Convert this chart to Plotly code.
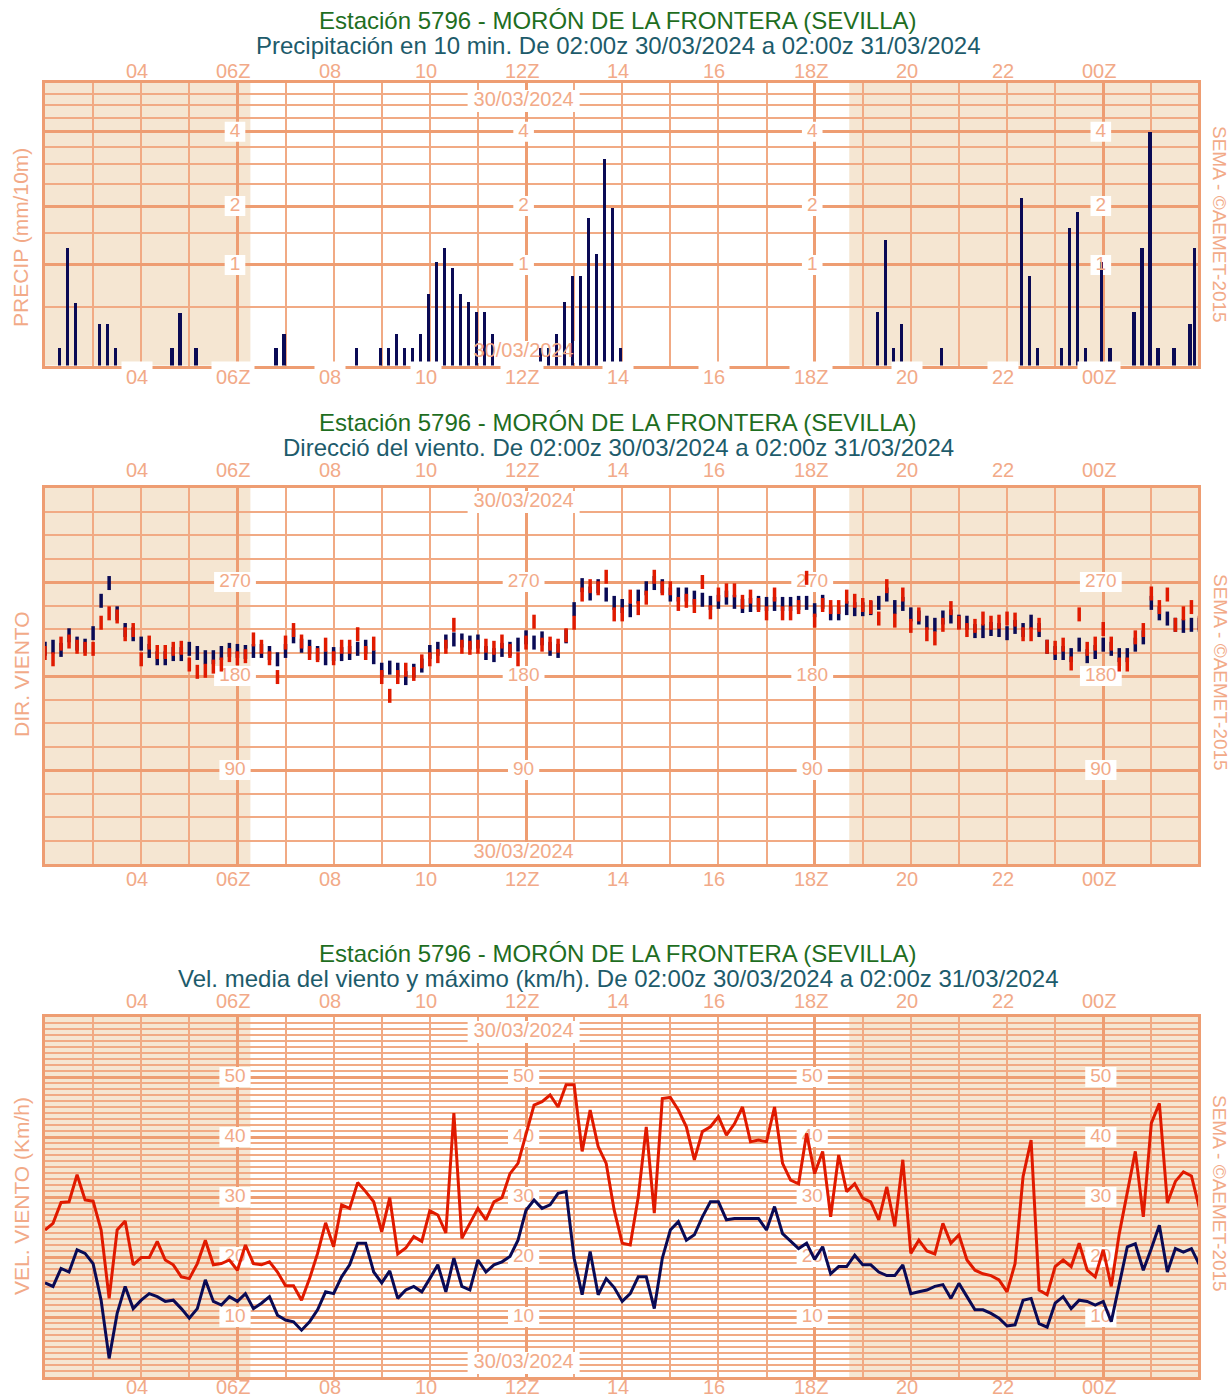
import math
import plotly.graph_objects as go

W, H = 1230, 1398

# ---------------- data ----------------
x_tick_hours = [2, 4, 6, 8, 10, 12, 14, 16, 18, 20, 22]
x_tick_labels = ["04", "06Z", "08", "10", "12Z", "14", "16", "18Z", "20", "22", "00Z"]
date_label = "30/03/2024"
sunrise_h = 4.27   # ~06:16z (hours after 02:00z)
sunset_h = 16.72   # ~18:43z

precip_times = ["02:20", "02:30", "02:40", "03:10", "03:20", "03:30", "04:40", "04:50", "05:10",
                "06:50", "07:00", "08:30", "09:00", "09:10", "09:20", "09:30", "09:40", "09:50",
                "10:00", "10:10", "10:20", "10:30", "10:40", "10:50", "11:00", "11:10", "11:20",
                "12:20", "12:30", "12:40", "12:50", "13:00", "13:10", "13:20", "13:30", "13:40",
                "13:50", "14:00", "19:20", "19:30", "19:40", "19:50", "20:40", "22:20", "22:30",
                "22:40", "23:10", "23:20", "23:30", "23:40", "00:00", "00:10", "00:40", "00:50",
                "01:00", "01:10", "01:30", "01:50", "01:56"]
precip_mm = [0.13, 1.24, 0.54, 0.33, 0.33, 0.13, 0.13, 0.44, 0.13,
             0.13, 0.24, 0.13, 0.13, 0.13, 0.24, 0.13, 0.13, 0.24,
             0.64, 1.04, 1.25, 0.96, 0.64, 0.55, 0.45, 0.45, 0.24,
             0.13, 0.13, 0.24, 0.55, 0.85, 0.85, 1.76, 1.15, 3.15,
             1.95, 0.13, 0.45, 1.37, 0.13, 0.33, 0.13, 2.17, 0.85,
             0.13, 0.13, 1.58, 1.88, 0.13, 1.04, 0.13, 0.45, 1.25,
             3.98, 0.13, 0.13, 0.33, 1.25]
precip_ticks = [1, 2, 4]
precip_minor = [0.5, 1.5, 2.5, 3, 3.5, 4.5, 5, 5.5]

# wind direction every 10 min from 02:00z (degrees)
dir_mean = [206, 208, 205, 219, 211, 209, 221, 252, 269, 240, 224, 220, 211, 204, 197, 197, 201, 201,
            206, 202, 198, 198, 202, 205, 204, 203, 204, 204, 202, 196, 204, 218, 209, 208, 202, 197,
            201, 201, 202, 206, 208, 198, 186, 188, 186, 178, 185, 190, 203, 206, 213, 215, 214, 212,
            213, 202, 200, 205, 206, 210, 217, 212, 216, 206, 204, 218, 244, 267, 259, 266, 258, 250,
            247, 243, 256, 264, 269, 266, 258, 258, 258, 255, 253, 250, 251, 255, 251, 247, 248, 250,
            249, 249, 249, 249, 250, 250, 243, 251, 240, 240, 245, 244, 244, 245, 250, 258, 246, 249,
            239, 236, 231, 229, 236, 237, 232, 231, 223, 223, 225, 224, 221, 227, 224, 232, 224, 208,
            202, 202, 200, 210, 199, 203, 210, 206, 200, 200, 210, 217, 250, 240, 235, 229, 228, 229, 229]
dir_gust = [202, 196, 211, 213, 208, 206, 206, 231, 240, 237, 220, 224, 196, 212, 203, 203, 206, 207,
            191, 184, 185, 189, 191, 200, 197, 199, 215, 208, 197, 179, 212, 224, 213, 202, 200, 210,
            197, 208, 208, 220, 202, 211, 179, 161, 179, 186, 182, 194, 196, 199, 208, 229, 208, 207,
            208, 209, 207, 213, 204, 196, 212, 232, 210, 211, 209, 219, 231, 258, 266, 264, 275, 239,
            239, 256, 245, 255, 275, 264, 264, 249, 252, 247, 270, 241, 258, 262, 262, 251, 256, 248,
            240, 258, 240, 240, 246, 274, 233, 248, 246, 246, 256, 252, 248, 246, 235, 266, 233, 258,
            228, 239, 220, 216, 229, 245, 231, 224, 228, 235, 231, 232, 235, 234, 220, 220, 229, 208,
            207, 210, 192, 239, 206, 211, 225, 211, 191, 191, 217, 224, 259, 246, 258, 229, 240, 246, 231]
dir_ticks = [90, 180, 270]

# wind speed every 10 min from 02:00z (km/h)
vel_gust = [24.5, 25.6, 29.1, 29.2, 33.7, 29.5, 29.3, 24.5, 13.1, 24.5, 26.0, 18.7, 19.9, 19.9, 22.6,
            19.5, 18.7, 16.7, 16.4, 18.9, 22.8, 18.7, 18.9, 19.5, 17.8, 22.0, 18.9, 18.7, 19.2, 17.5,
            15.2, 15.2, 12.8, 16.4, 20.6, 25.7, 21.7, 28.7, 28.1, 32.4, 30.9, 29.2, 24.2, 29.9, 20.5,
            21.5, 23.4, 22.6, 27.7, 27.0, 24.0, 44.0, 23.1, 25.6, 28.1, 26.2, 29.2, 29.9, 33.9, 35.6,
            40.6, 45.3, 45.9, 47.0, 45.0, 48.7, 48.7, 37.6, 44.5, 38.4, 35.6, 27.8, 22.3, 22.0, 30.0,
            41.7, 27.3, 46.4, 46.6, 44.5, 41.7, 36.2, 40.9, 41.7, 43.4, 40.3, 42.2, 45.0, 39.2, 39.5,
            39.2, 45.0, 35.6, 32.8, 32.2, 40.6, 33.9, 37.6, 26.7, 37.0, 30.9, 32.2, 29.8, 29.2, 26.2,
            31.7, 25.1, 36.2, 20.6, 22.8, 21.0, 20.5, 25.6, 22.3, 23.7, 19.5, 17.8, 17.2, 16.9, 16.2,
            14.2, 18.9, 33.4, 39.5, 14.5, 13.7, 18.4, 19.5, 18.4, 22.3, 17.8, 16.7, 21.2, 15.1, 23.9,
            30.6, 37.6, 26.7, 42.3, 45.6, 29.0, 32.6, 34.2, 33.5, 28.1]
vel_mean = [15.7, 15.1, 18.1, 17.5, 21.2, 20.6, 18.9, 12.8, 3.1, 10.6, 15.1, 11.4, 12.8, 13.9, 13.4,
            12.6, 12.8, 11.4, 9.8, 11.4, 16.2, 12.6, 12.0, 13.4, 12.6, 13.9, 11.4, 12.3, 13.4, 10.3,
            9.5, 9.2, 7.8, 9.2, 11.2, 14.2, 13.9, 16.7, 18.7, 22.3, 22.3, 17.5, 15.7, 17.7, 13.1,
            14.5, 15.1, 14.2, 16.4, 18.7, 14.2, 19.8, 15.1, 14.5, 19.5, 17.5, 18.7, 19.2, 20.1, 22.8,
            27.8, 29.5, 28.1, 28.7, 30.6, 30.9, 19.8, 13.7, 20.9, 13.7, 16.4, 14.9, 12.6, 13.9, 16.7,
            16.7, 11.4, 19.8, 24.5, 25.9, 22.8, 23.7, 26.7, 29.2, 29.2, 26.2, 26.4, 26.4, 26.4, 26.4,
            24.5, 28.4, 23.9, 22.6, 21.4, 22.3, 19.6, 21.7, 17.2, 18.4, 18.4, 20.3, 18.7, 18.7, 17.5,
            16.9, 16.9, 18.7, 13.9, 14.2, 14.5, 15.1, 15.4, 13.1, 15.6, 13.4, 11.2, 11.2, 10.6, 9.8,
            8.5, 8.7, 12.8, 13.1, 8.9, 8.3, 12.3, 13.4, 11.4, 12.8, 12.6, 12.0, 12.6, 9.2, 15.4,
            21.7, 22.2, 17.8, 21.4, 25.3, 17.5, 21.4, 20.8, 21.4, 18.7]
vel_ticks = [10, 20, 30, 40, 50]

titles_line1 = "Estación 5796 - MORÓN DE LA FRONTERA (SEVILLA)"
titles_line2 = ["Precipitación en 10 min. De 02:00z 30/03/2024 a 02:00z 31/03/2024",
                "Direcció del viento. De 02:00z 30/03/2024 a 02:00z 31/03/2024",
                "Vel. media del viento y máximo (km/h). De 02:00z 30/03/2024 a 02:00z 31/03/2024"]
y_titles = ["PRECIP (mm/10m)", "DIR. VIENTO", "VEL. VIENTO (Km/h)"]
credit = "SEMA - ©AEMET-2015"

# ---------------- style ----------------
FONT = "Liberation Sans, Arial, sans-serif"
GRID = "#ee9d72"
GRID_THIN = "#f1aa84"
LABEL = "#f2aa88"
SHADE = "#f5e6d2"
NAVY = "#0a0a55"
RED = "#e01a00"
GREEN = "#1f6e1f"
TEAL = "#1d5b6b"

XR = [0, 23.97]
X_L, X_R = 45, 1198


def hrs(s):
    h, m = map(int, s.split(":"))
    return ((h * 60 + m - 120) % 1440) / 60.0


ln = lambda v: math.log1p(v)

# panels: (top px, bottom px, y range)
panels = [
    (83, 365.6, [0, ln(6)]),
    (488, 864, [0, 360]),
    (1017, 1377, [0, 60]),
]


def ydata(i, pix):
    top, bot, r = panels[i]
    return r[0] + (bot - pix) / (bot - top) * (r[1] - r[0])


fig = go.Figure()

label_hours = [4, 10, 16, 22]
LSHIFT = -0.05

shapes = []
annotations = []

for i, (top, bot, yr) in enumerate(panels):
    xa = "xaxis" if i == 0 else f"xaxis{i+1}"
    ya = "yaxis" if i == 0 else f"yaxis{i+1}"
    xr = "x" if i == 0 else f"x{i+1}"
    yrf = "y" if i == 0 else f"y{i+1}"
    fig.update_layout({
        xa: dict(domain=[X_L / W, X_R / W], range=XR, anchor=yrf, tickmode="linear", tick0=4, dtick=6,
                 showgrid=True, gridcolor=GRID, gridwidth=3, showticklabels=False, ticks="",
                 zeroline=False, showline=True, mirror=True, linecolor=GRID, linewidth=3,
                 minor=dict(tick0=0, dtick=1, showgrid=True, gridcolor=GRID_THIN, gridwidth=1.5)),
    })
    if i == 0:
        yax = dict(tickmode="array", tickvals=[ln(v) for v in precip_ticks],
                   minor=dict(tickmode="array", tickvals=[ln(v) for v in precip_minor], showgrid=True,
                              gridcolor=GRID_THIN, gridwidth=1.5))
        vals = precip_ticks
        ypos = [ln(v) for v in precip_ticks]
    elif i == 1:
        yax = dict(tickmode="array", tickvals=dir_ticks,
                   minor=dict(tick0=0, dtick=22.5, showgrid=True, gridcolor=GRID_THIN, gridwidth=1.5))
        vals = dir_ticks
        ypos = dir_ticks
    else:
        yax = dict(tickmode="array", tickvals=vel_ticks,
                   minor=dict(tick0=0, dtick=1, showgrid=True, gridcolor=GRID_THIN, gridwidth=1.5))
        vals = vel_ticks
        ypos = vel_ticks
    yax.update(domain=[1 - bot / H, 1 - top / H], range=yr, anchor=xr, showgrid=True, gridcolor=GRID,
               gridwidth=3, showticklabels=False, ticks="", zeroline=False, showline=True, mirror=True,
               linecolor=GRID, linewidth=3)
    fig.update_layout({ya: yax})

    # night shading
    for x0, x1 in [(XR[0], sunrise_h), (sunset_h, XR[1])]:
        shapes.append(dict(type="rect", xref=xr, yref=f"{yrf} domain", x0=x0, x1=x1, y0=0, y1=1,
                           fillcolor=SHADE, line=dict(width=0), layer="below"))

    # in-plot value labels (white boxes + text under the data)
    tx, ty, tt = [], [], []
    for h in label_hours:
        for v, yp in zip(vals, ypos):
            w = len(str(v)) * 10.6 + 10
            shapes.append(dict(type="rect", xref=xr, yref=yrf, xsizemode="pixel", ysizemode="pixel",
                               xanchor=h + LSHIFT, yanchor=yp, x0=-w / 2, x1=w / 2, y0=-10, y1=10,
                               fillcolor="white", line=dict(width=0), layer="between"))
            tx.append(h + LSHIFT)
            ty.append(yp)
            tt.append(str(v))
    # date labels
    dtop = {0: 101, 1: 502, 2: 1032}[i]
    dbot = {0: 352, 1: 853, 2: 1363}[i]
    for pix in (dtop, dbot):
        yp = ydata(i, pix)
        shapes.append(dict(type="rect", xref=xr, yref=yrf, xsizemode="pixel", ysizemode="pixel",
                           xanchor=10 + LSHIFT, yanchor=yp, x0=-56, x1=56, y0=-11, y1=11,
                           fillcolor="white", line=dict(width=0), layer="between"))
    fig.add_trace(go.Scatter(x=tx, y=ty, text=tt, mode="text", xaxis=xr, yaxis=yrf, hoverinfo="skip",
                             textfont=dict(family=FONT, size=19, color=LABEL), showlegend=False))
    fig.add_trace(go.Scatter(x=[10 + LSHIFT, 10 + LSHIFT], y=[ydata(i, dtop), ydata(i, dbot)],
                             text=[date_label, date_label], mode="text", xaxis=xr, yaxis=yrf,
                             hoverinfo="skip", textfont=dict(family=FONT, size=20, color=LABEL),
                             showlegend=False))

    # axis hour labels (top and bottom)
    top_lab = {0: 71, 1: 470, 2: 1001}[i]
    bot_lab = {0: 377, 1: 879, 2: 1387}[i]
    for h, lab in zip(x_tick_hours, x_tick_labels):
        annotations.append(dict(x=h, xref=xr, y=1 - top_lab / H, yref="paper", text=lab, showarrow=False,
                                xshift=-4, xanchor="center", yanchor="middle",
                                font=dict(family=FONT, size=20, color=LABEL)))
        annotations.append(dict(x=h, xref=xr, y=1 - bot_lab / H, yref="paper", text=lab, showarrow=False,
                                xshift=-4, xanchor="center", yanchor="middle",
                                bgcolor="white" if i == 0 else None,
                                borderpad=4 if i == 0 else 0, font=dict(family=FONT, size=20, color=LABEL)))

    # titles
    t1 = {0: 21, 1: 422, 2: 953}[i]
    t2 = {0: 46, 1: 447, 2: 978}[i]
    annotations.append(dict(x=618 / W, y=1 - t1 / H, xref="paper", yref="paper", text=titles_line1,
                            showarrow=False, xanchor="center", yanchor="middle",
                            font=dict(family=FONT, size=24, color=GREEN)))
    annotations.append(dict(x=618 / W, y=1 - t2 / H, xref="paper", yref="paper", text=titles_line2[i],
                            showarrow=False, xanchor="center", yanchor="middle",
                            font=dict(family=FONT, size=24, color=TEAL)))
    # y title
    yc = {0: 238, 1: 674, 2: 1196}[i]
    annotations.append(dict(x=21 / W, y=1 - yc / H, xref="paper", yref="paper", text=y_titles[i],
                            textangle=-90, showarrow=False, xanchor="center", yanchor="middle",
                            font=dict(family=FONT, size=21, color=LABEL)))
    # credit
    rc = {0: 224, 1: 672, 2: 1193}[i]
    annotations.append(dict(x=1220 / W, y=1 - rc / H, xref="paper", yref="paper", text=credit,
                            textangle=90, showarrow=False, xanchor="center", yanchor="middle",
                            font=dict(family=FONT, size=19, color=LABEL)))

# ---------------- data traces ----------------
BAR_OFFSET = -0.03
fig.add_trace(go.Bar(x=[hrs(t) + BAR_OFFSET for t in precip_times], y=[ln(v) for v in precip_mm],
                     width=0.07, marker=dict(color=NAVY, line=dict(width=0)), xaxis="x", yaxis="y",
                     showlegend=False, customdata=precip_mm, hovertemplate="%{customdata} mm<extra></extra>"))

t10 = [k / 6 for k in range(len(dir_mean))]
fig.add_trace(go.Scatter(x=t10, y=dir_mean, mode="markers", xaxis="x2", yaxis="y2", showlegend=False,
                         marker=dict(symbol="line-ns", size=10, line=dict(width=3.5, color=NAVY))))
fig.add_trace(go.Scatter(x=t10, y=dir_gust, mode="markers", xaxis="x2", yaxis="y2", showlegend=False,
                         marker=dict(symbol="line-ns", size=10, line=dict(width=3.5, color=RED))))

t10v = [k / 6 for k in range(len(vel_mean))]
fig.add_trace(go.Scatter(x=t10v, y=vel_gust, mode="lines", xaxis="x3", yaxis="y3", showlegend=False,
                         line=dict(color=RED, width=3)))
fig.add_trace(go.Scatter(x=t10v, y=vel_mean, mode="lines", xaxis="x3", yaxis="y3", showlegend=False,
                         line=dict(color=NAVY, width=3)))

fig.update_layout(width=W, height=H, margin=dict(l=0, r=0, t=0, b=0), paper_bgcolor="white",
                  plot_bgcolor="white", shapes=shapes, annotations=annotations, showlegend=False,
                  bargap=0)

fig.write_html("out.html", config={"displayModeBar": False},
               post_script="document.body.style.margin='0';document.body.style.overflow='hidden';")
